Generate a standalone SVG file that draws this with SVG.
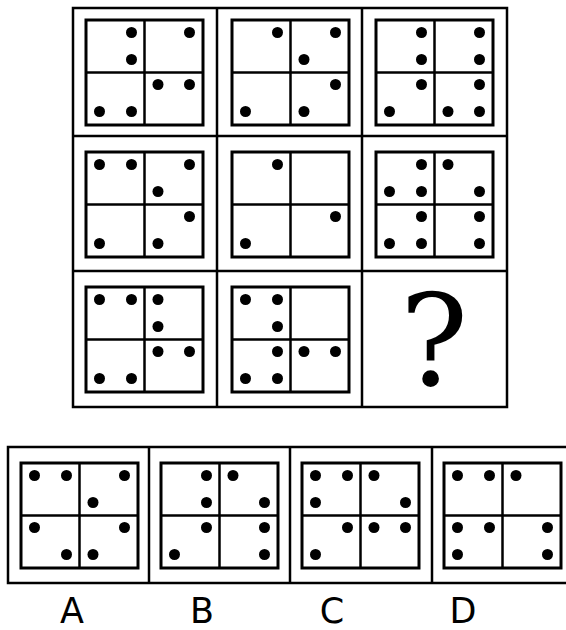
<svg xmlns="http://www.w3.org/2000/svg" width="566" height="630" viewBox="0 0 566 630">
<style>
.frame{fill:none;stroke:#000;stroke-width:2.5}
.box{fill:#fff;stroke:#000;stroke-width:3}
.mid{stroke:#000;stroke-width:2.5}
.d{fill:#000}
.lbl{font-family:"DejaVu Sans",sans-serif;font-size:35px;fill:#000;text-anchor:middle}
.q{font-family:"DejaVu Serif",serif;font-size:128px;fill:#000;text-anchor:middle}
</style>
<defs>
<g id="panel">
<rect class="box" x="0" y="0" width="117" height="105"/>
<line class="mid" x1="58.5" y1="0" x2="58.5" y2="105"/>
<line class="mid" x1="0" y1="52.5" x2="117" y2="52.5"/>
</g>
</defs>
<rect width="566" height="630" fill="#fff"/>
<g id="connectors">
<rect class="frame" x="73" y="8" width="434" height="399"/>
<line class="frame" x1="217" y1="8" x2="217" y2="407"/>
<line class="frame" x1="362" y1="8" x2="362" y2="407"/>
<line class="frame" x1="73" y1="136" x2="507" y2="136"/>
<line class="frame" x1="73" y1="271" x2="507" y2="271"/>
<rect class="frame" x="8" y="447" width="567" height="136"/>
<line class="frame" x1="149" y1="447" x2="149" y2="583"/>
<line class="frame" x1="290" y1="447" x2="290" y2="583"/>
<line class="frame" x1="432" y1="447" x2="432" y2="583"/>
</g>
<g id="cell1" transform="translate(86,20)"><use href="#panel"/>
<circle class="d" cx="45.5" cy="12.5" r="5.5"/><circle class="d" cx="45.5" cy="39.5" r="5.5"/><circle class="d" cx="103.5" cy="12.5" r="5.5"/><circle class="d" cx="13.5" cy="91.5" r="5.5"/><circle class="d" cx="45.5" cy="91.5" r="5.5"/><circle class="d" cx="72" cy="64.5" r="5.5"/><circle class="d" cx="103.5" cy="64.5" r="5.5"/>
</g>
<g id="cell2" transform="translate(232,20)"><use href="#panel"/>
<circle class="d" cx="45.5" cy="12.5" r="5.5"/><circle class="d" cx="103.5" cy="12.5" r="5.5"/><circle class="d" cx="72" cy="39.5" r="5.5"/><circle class="d" cx="103.5" cy="64.5" r="5.5"/><circle class="d" cx="72" cy="91.5" r="5.5"/><circle class="d" cx="13.5" cy="91.5" r="5.5"/>
</g>
<g id="cell3" transform="translate(376,20)"><use href="#panel"/>
<circle class="d" cx="45.5" cy="12.5" r="5.5"/><circle class="d" cx="45.5" cy="39.5" r="5.5"/><circle class="d" cx="103.5" cy="12.5" r="5.5"/><circle class="d" cx="103.5" cy="39.5" r="5.5"/><circle class="d" cx="45.5" cy="64.5" r="5.5"/><circle class="d" cx="13.5" cy="91.5" r="5.5"/><circle class="d" cx="103.5" cy="64.5" r="5.5"/><circle class="d" cx="72" cy="91.5" r="5.5"/><circle class="d" cx="103.5" cy="91.5" r="5.5"/>
</g>
<g id="cell4" transform="translate(86,152)"><use href="#panel"/>
<circle class="d" cx="13.5" cy="12.5" r="5.5"/><circle class="d" cx="45.5" cy="12.5" r="5.5"/><circle class="d" cx="103.5" cy="12.5" r="5.5"/><circle class="d" cx="72" cy="39.5" r="5.5"/><circle class="d" cx="103.5" cy="64.5" r="5.5"/><circle class="d" cx="72" cy="91.5" r="5.5"/><circle class="d" cx="13.5" cy="91.5" r="5.5"/>
</g>
<g id="cell5" transform="translate(232,152)"><use href="#panel"/>
<circle class="d" cx="45.5" cy="12.5" r="5.5"/><circle class="d" cx="103.5" cy="64.5" r="5.5"/><circle class="d" cx="13.5" cy="91.5" r="5.5"/>
</g>
<g id="cell6" transform="translate(376,152)"><use href="#panel"/>
<circle class="d" cx="45.5" cy="12.5" r="5.5"/><circle class="d" cx="13.5" cy="39.5" r="5.5"/><circle class="d" cx="45.5" cy="39.5" r="5.5"/><circle class="d" cx="72" cy="12.5" r="5.5"/><circle class="d" cx="103.5" cy="39.5" r="5.5"/><circle class="d" cx="45.5" cy="64.5" r="5.5"/><circle class="d" cx="13.5" cy="91.5" r="5.5"/><circle class="d" cx="45.5" cy="91.5" r="5.5"/><circle class="d" cx="103.5" cy="64.5" r="5.5"/><circle class="d" cx="103.5" cy="91.5" r="5.5"/>
</g>
<g id="cell7" transform="translate(86,287)"><use href="#panel"/>
<circle class="d" cx="13.5" cy="12.5" r="5.5"/><circle class="d" cx="45.5" cy="12.5" r="5.5"/><circle class="d" cx="72" cy="12.5" r="5.5"/><circle class="d" cx="72" cy="39.5" r="5.5"/><circle class="d" cx="72" cy="64.5" r="5.5"/><circle class="d" cx="103.5" cy="64.5" r="5.5"/><circle class="d" cx="13.5" cy="91.5" r="5.5"/><circle class="d" cx="45.5" cy="91.5" r="5.5"/>
</g>
<g id="cell8" transform="translate(232,287)"><use href="#panel"/>
<circle class="d" cx="13.5" cy="12.5" r="5.5"/><circle class="d" cx="45.5" cy="12.5" r="5.5"/><circle class="d" cx="45.5" cy="39.5" r="5.5"/><circle class="d" cx="45.5" cy="64.5" r="5.5"/><circle class="d" cx="13.5" cy="91.5" r="5.5"/><circle class="d" cx="45.5" cy="91.5" r="5.5"/><circle class="d" cx="72" cy="64.5" r="5.5"/><circle class="d" cx="103.5" cy="64.5" r="5.5"/>
</g>
<g id="cell9"><text class="q" x="434" y="385">?</text></g>
<g id="optA" transform="translate(21,463)"><use href="#panel"/>
<circle class="d" cx="13.5" cy="12.5" r="5.5"/><circle class="d" cx="45.5" cy="12.5" r="5.5"/><circle class="d" cx="103.5" cy="12.5" r="5.5"/><circle class="d" cx="72" cy="39.5" r="5.5"/><circle class="d" cx="13.5" cy="64.5" r="5.5"/><circle class="d" cx="45.5" cy="91.5" r="5.5"/><circle class="d" cx="72" cy="91.5" r="5.5"/><circle class="d" cx="103.5" cy="64.5" r="5.5"/>
</g>
<g id="optB" transform="translate(161,463)"><use href="#panel"/>
<circle class="d" cx="45.5" cy="12.5" r="5.5"/><circle class="d" cx="45.5" cy="39.5" r="5.5"/><circle class="d" cx="72" cy="12.5" r="5.5"/><circle class="d" cx="103.5" cy="39.5" r="5.5"/><circle class="d" cx="45.5" cy="64.5" r="5.5"/><circle class="d" cx="13.5" cy="91.5" r="5.5"/><circle class="d" cx="103.5" cy="64.5" r="5.5"/><circle class="d" cx="103.5" cy="91.5" r="5.5"/>
</g>
<g id="optC" transform="translate(302,463)"><use href="#panel"/>
<circle class="d" cx="13.5" cy="12.5" r="5.5"/><circle class="d" cx="45.5" cy="12.5" r="5.5"/><circle class="d" cx="13.5" cy="39.5" r="5.5"/><circle class="d" cx="72" cy="12.5" r="5.5"/><circle class="d" cx="103.5" cy="39.5" r="5.5"/><circle class="d" cx="45.5" cy="64.5" r="5.5"/><circle class="d" cx="13.5" cy="91.5" r="5.5"/><circle class="d" cx="72" cy="64.5" r="5.5"/><circle class="d" cx="103.5" cy="64.5" r="5.5"/>
</g>
<g id="optD" transform="translate(444,463)"><use href="#panel"/>
<circle class="d" cx="13.5" cy="12.5" r="5.5"/><circle class="d" cx="45.5" cy="12.5" r="5.5"/><circle class="d" cx="72" cy="12.5" r="5.5"/><circle class="d" cx="13.5" cy="64.5" r="5.5"/><circle class="d" cx="45.5" cy="64.5" r="5.5"/><circle class="d" cx="13.5" cy="91.5" r="5.5"/><circle class="d" cx="103.5" cy="64.5" r="5.5"/><circle class="d" cx="103.5" cy="91.5" r="5.5"/>
</g>
<g id="labels">
<text class="lbl" x="72" y="623">A</text>
<text class="lbl" x="202" y="623">B</text>
<text class="lbl" x="332" y="623">C</text>
<text class="lbl" x="463" y="623">D</text>
</g>
</svg>
